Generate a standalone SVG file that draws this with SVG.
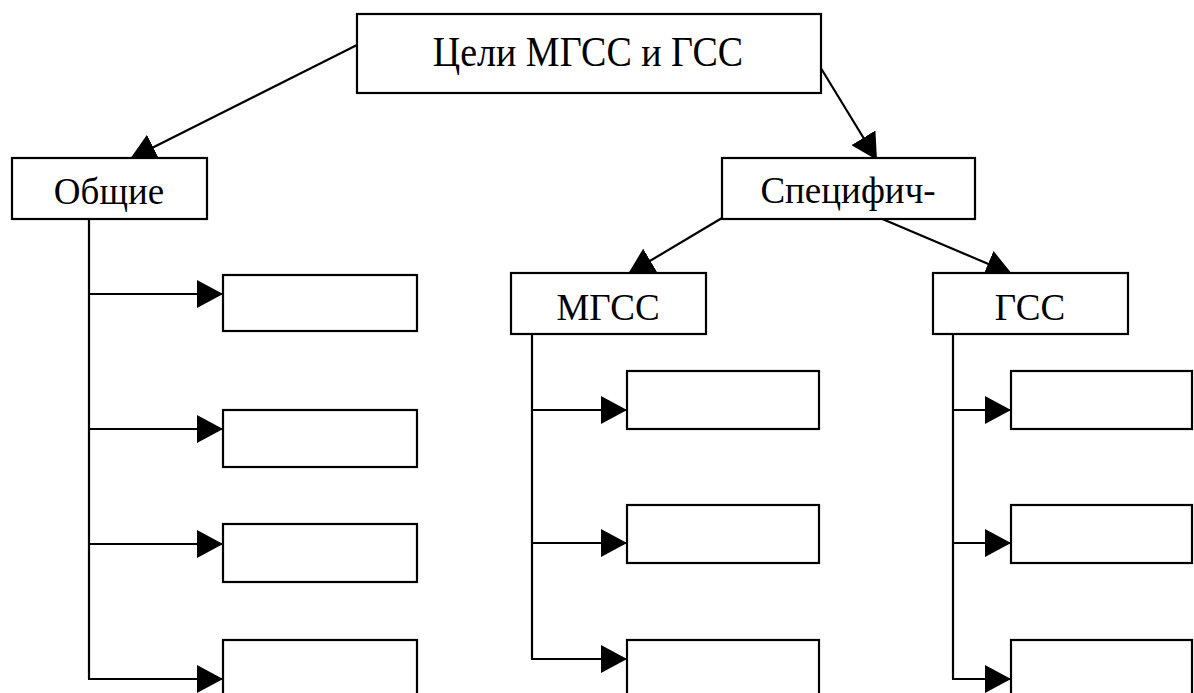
<svg xmlns="http://www.w3.org/2000/svg" width="1194" height="693" viewBox="0 0 1194 693">
  <style>
    .box { fill: #ffffff; stroke: #000000; stroke-width: 2.2; }
    .lbl { font-family: "Liberation Serif", "Times New Roman", serif; font-size: 37px; fill: #000000; text-anchor: middle; }
    .conn { fill: none; stroke: #000000; stroke-width: 2.2; }
  </style>
  <defs>
    <marker id="arrow" viewBox="0 0 26 28" markerWidth="26" markerHeight="28" refX="26" refY="14" markerUnits="userSpaceOnUse" orient="auto">
      <path d="M0,0 L26,14 L0,28 Z" fill="#000000"/>
    </marker>
  </defs>
  <rect width="1194" height="693" fill="#ffffff"/>

  <g id="connectors">
    <line class="conn" x1="357" y1="45" x2="130" y2="159" marker-end="url(#arrow)"/>
    <line class="conn" x1="819" y1="65" x2="877" y2="160" marker-end="url(#arrow)"/>
    <line class="conn" x1="722" y1="218" x2="628" y2="274" marker-end="url(#arrow)"/>
    <line class="conn" x1="880" y1="218" x2="1012" y2="274" marker-end="url(#arrow)"/>

    <path class="conn" d="M89,219 V679"/>
    <line class="conn" x1="89" y1="294" x2="223" y2="294" marker-end="url(#arrow)"/>
    <line class="conn" x1="89" y1="429" x2="223" y2="429" marker-end="url(#arrow)"/>
    <line class="conn" x1="89" y1="544" x2="223" y2="544" marker-end="url(#arrow)"/>
    <line class="conn" x1="88" y1="679" x2="223" y2="679" marker-end="url(#arrow)"/>

    <path class="conn" d="M532,334 V659"/>
    <line class="conn" x1="532" y1="410" x2="627" y2="410" marker-end="url(#arrow)"/>
    <line class="conn" x1="532" y1="543" x2="627" y2="543" marker-end="url(#arrow)"/>
    <line class="conn" x1="531" y1="659" x2="627" y2="659" marker-end="url(#arrow)"/>

    <path class="conn" d="M953,334 V679"/>
    <line class="conn" x1="953" y1="410" x2="1011" y2="410" marker-end="url(#arrow)"/>
    <line class="conn" x1="953" y1="543" x2="1011" y2="543" marker-end="url(#arrow)"/>
    <line class="conn" x1="952" y1="679" x2="1011" y2="679" marker-end="url(#arrow)"/>
  </g>

  <g id="node-goals">
    <rect class="box" x="357" y="14" width="464" height="79"/>
    <text class="lbl" x="588" y="0" style="font-size:38px" transform="translate(0,66) scale(1,1.12)">Цели МГСС и ГСС</text>
  </g>
  <g id="node-general">
    <rect class="box" x="12" y="158" width="195" height="61"/>
    <text class="lbl" x="109" y="204">Общие</text>
  </g>
  <g id="node-specific">
    <rect class="box" x="722" y="158" width="253" height="61"/>
    <text class="lbl" x="848" y="203">Специфич-</text>
  </g>
  <g id="node-mgss">
    <rect class="box" x="511" y="273" width="195" height="61"/>
    <text class="lbl" x="608" y="320">МГСС</text>
  </g>
  <g id="node-gss">
    <rect class="box" x="933" y="273" width="195" height="61"/>
    <text class="lbl" x="1030" y="320">ГСС</text>
  </g>

  <g id="node-general-1"><rect class="box" x="223" y="275" width="194" height="56"/></g>
  <g id="node-general-2"><rect class="box" x="223" y="410" width="194" height="57"/></g>
  <g id="node-general-3"><rect class="box" x="223" y="524" width="194" height="58"/></g>
  <g id="node-general-4"><rect class="box" x="223" y="640" width="194" height="80"/></g>

  <g id="node-mgss-1"><rect class="box" x="627" y="371" width="192" height="58"/></g>
  <g id="node-mgss-2"><rect class="box" x="627" y="505" width="192" height="58"/></g>
  <g id="node-mgss-3"><rect class="box" x="627" y="640" width="192" height="80"/></g>

  <g id="node-gss-1"><rect class="box" x="1011" y="371" width="181" height="58"/></g>
  <g id="node-gss-2"><rect class="box" x="1011" y="505" width="181" height="58"/></g>
  <g id="node-gss-3"><rect class="box" x="1011" y="640" width="181" height="80"/></g>
</svg>
